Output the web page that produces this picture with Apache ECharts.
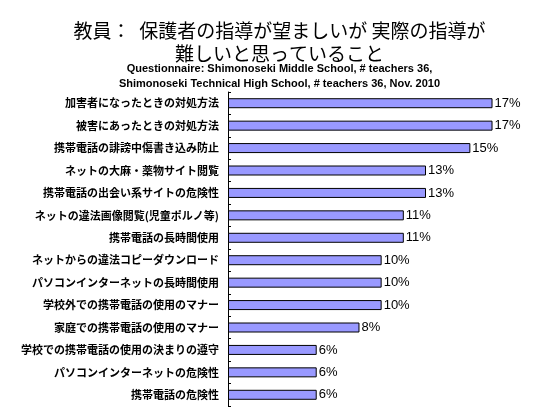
<!DOCTYPE html>
<html>
<head>
<meta charset="utf-8">
<script src="https://cdn.jsdelivr.net/npm/echarts@6/dist/echarts.min.js"></script>
<style>
html,body{margin:0;padding:0;background:#fff;}
#chart{width:559px;height:420px;}
</style>
</head>
<body>
<div id="chart"></div>
<script>
const titleLines = ['教員：  保護者の指導が望ましいが 実際の指導が', '難しいと思っていること'];
const subtitleLines = ['Questionnaire: Shimonoseki Middle School, # teachers 36,', 'Shimonoseki Technical High School, # teachers 36, Nov. 2010'];
const categories = [
  '加害者になったときの対処方法',
  '被害にあったときの対処方法',
  '携帯電話の誹謗中傷書き込み防止',
  'ネットの大麻・薬物サイト閲覧',
  '携帯電話の出会い系サイトの危険性',
  'ネットの違法画像閲覧(児童ポルノ等)',
  '携帯電話の長時間使用',
  'ネットからの違法コピーダウンロード',
  'パソコンインターネットの長時間使用',
  '学校外での携帯電話の使用のマナー',
  '家庭での携帯電話の使用のマナー',
  '学校での携帯電話の使用の決まりの遵守',
  'パソコンインターネットの危険性',
  '携帯電話の危険性'
];
const values = [16.7, 16.7, 15.3, 12.5, 12.5, 11.1, 11.1, 9.7, 9.7, 9.7, 8.3, 5.6, 5.6, 5.6];

const chart = echarts.init(document.getElementById('chart'));
chart.setOption({
  backgroundColor: '#ffffff',
  animation: false,
  title: [
    {
      text: titleLines.join('\n'),
      left: 'center',
      top: 14,
      textStyle: {fontFamily: 'Noto Sans CJK JP', fontSize: 19, fontWeight: 'normal', color: '#000', lineHeight: 23}
    },
    {
      text: subtitleLines.join('\n'),
      left: 'center',
      top: 56,
      textStyle: {fontFamily: 'Liberation Sans', fontSize: 11, fontWeight: 'bold', color: '#000', lineHeight: 15}
    }
  ],
  grid: {left: 228, right: 14.2, top: 92, bottom: 14, containLabel: false},
  xAxis: {
    type: 'value', min: 0, max: 20, show: false
  },
  yAxis: {
    type: 'category',
    inverse: true,
    data: categories,
    axisLine: {show: true, lineStyle: {color: '#000', width: 1}},
    axisTick: {show: true, inside: true, length: 3, lineStyle: {color: '#000'}},
    axisLabel: {fontFamily: 'Noto Sans CJK JP', fontSize: 11, fontWeight: 'bold', color: '#000', margin: 9}
  },
  series: [{
    type: 'bar',
    data: values,
    barWidth: 10,
    itemStyle: {color: '#9999ff', borderColor: '#000', borderWidth: 1},
    label: {
      show: true, position: 'right', distance: 2,
      formatter: p => Math.round(p.value) + '%',
      fontFamily: 'Liberation Sans', fontSize: 13, color: '#000'
    }
  }]
});
</script>
</body>
</html>
